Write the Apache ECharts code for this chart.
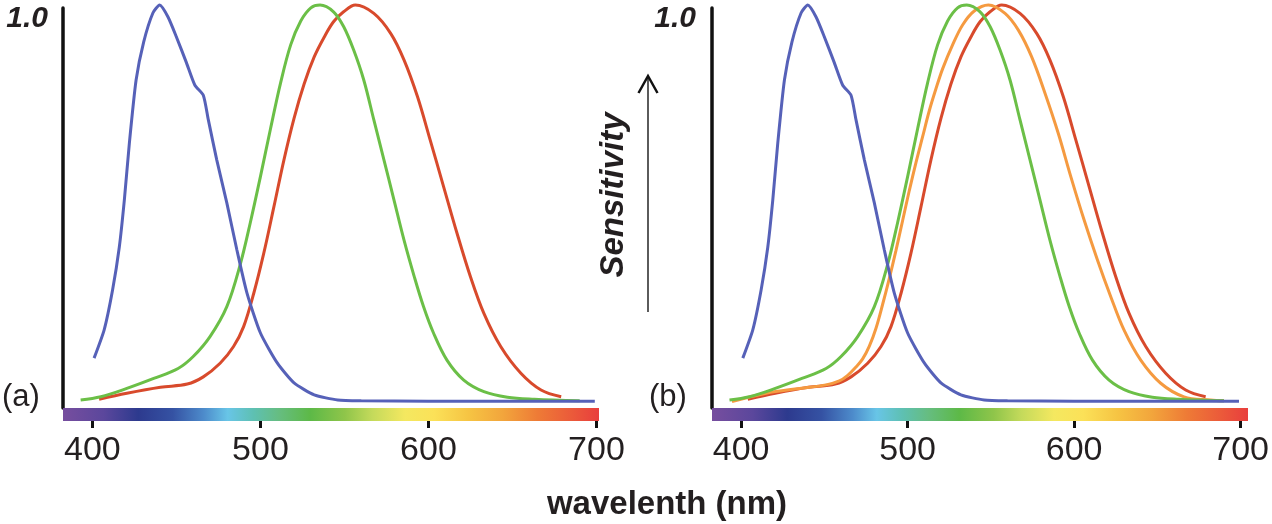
<!DOCTYPE html>
<html>
<head>
<meta charset="utf-8">
<script src="https://cdn.jsdelivr.net/npm/echarts@6/dist/echarts.min.js"></script>
<style>
html, body { margin: 0; padding: 0; background: #fff; }
#chart { width: 1272px; height: 524px; }
</style>
</head>
<body>
<div id="chart"></div>
<script>
// cone sensitivity curves (nm / relative sensitivity)
var blueNm  = [401, 407, 412, 416, 419, 422, 426, 430.5, 436, 440, 445, 450, 456, 461, 466, 469, 474, 480, 486, 492, 500, 510, 520, 532, 546, 560, 600, 650, 699];
var blueVal = [0.115, 0.186, 0.286, 0.393, 0.511, 0.654, 0.812, 0.907, 0.98, 1.0, 0.97, 0.92, 0.855, 0.799, 0.774, 0.712, 0.612, 0.504, 0.386, 0.278, 0.178, 0.103, 0.053, 0.023, 0.01, 0.008, 0.007, 0.007, 0.007];

var greenNm  = [393, 405, 420.5, 436.5, 451, 460, 470, 480, 488, 494, 500, 506, 512, 518, 524, 530, 535.5, 543.5, 549.5, 555.5, 561.5, 567.5, 573.5, 579.5, 585.5, 591.5, 597, 603, 611, 621, 633, 647, 663, 690];
var greenVal = [0.010, 0.018, 0.039, 0.064, 0.089, 0.119, 0.169, 0.244, 0.35, 0.455, 0.57, 0.69, 0.805, 0.9, 0.96, 0.993, 1.0, 0.983, 0.946, 0.887, 0.812, 0.712, 0.612, 0.511, 0.41, 0.32, 0.245, 0.178, 0.11, 0.06, 0.031, 0.017, 0.012, 0.008];

var redNm  = [404, 420.5, 440.5, 456.5, 466, 476, 484, 490, 496, 502, 508, 514, 520, 526, 532, 538, 543.5, 549.5, 556.5, 567.5, 577.5, 585.5, 593.5, 601, 609, 617, 625, 633, 643, 655, 667, 679];
var redVal = [0.012, 0.027, 0.042, 0.05, 0.068, 0.102, 0.144, 0.194, 0.277, 0.378, 0.494, 0.612, 0.716, 0.802, 0.87, 0.92, 0.958, 0.983, 1.0, 0.979, 0.929, 0.862, 0.77, 0.662, 0.545, 0.428, 0.319, 0.227, 0.144, 0.077, 0.035, 0.018];

// extra curve only in panel (b)
var orangeNm  = [394.5, 415, 435, 451, 459, 464, 469, 473, 477, 481, 485, 489, 493, 497, 501, 505, 509, 513, 517, 521, 527, 533, 540, 548.5, 558.5, 566.5, 574.5, 582.5, 590.5, 598, 606, 614, 622, 630, 640, 652, 666, 682, 690];
var orangeVal = [0.006, 0.027, 0.039, 0.048, 0.058, 0.072, 0.093, 0.113, 0.145, 0.19, 0.25, 0.315, 0.385, 0.46, 0.535, 0.605, 0.67, 0.735, 0.79, 0.84, 0.9, 0.95, 0.985, 1.0, 0.979, 0.937, 0.87, 0.779, 0.678, 0.57, 0.461, 0.361, 0.269, 0.185, 0.11, 0.052, 0.018, 0.01, 0.008];

var tickNm = [400, 500, 600, 700];

// spectrum strip under the axes (wavelength -> colour)
var spectrumNm  = [382.5, 410, 430, 450, 468, 482, 497, 512, 530, 550, 566, 585, 602, 622, 642, 662, 682, 701.5];
var spectrumCol = ['#7b4f9f', '#5b479c', '#2d3a8e', '#3552a3', '#4d8bcb', '#68c5e7', '#5ec0b2', '#66bd80', '#5db947', '#8fc54a', '#c4da5b', '#f4e860', '#fbe158', '#f6c443', '#f2a53c', '#ee7b36', '#eb5a3a', '#e8373e'];

var NM_MIN = 382.5, NM_MAX = 701.5;
var FONT = '"Liberation Sans", Arial, Helvetica, sans-serif';
var INK = '#231f20';

function zip(xs, ys) {
    var out = [];
    for (var i = 0; i < xs.length; i++) {
        out.push([xs[i], ys[i]]);
    }
    return out;
}

function spectrumGradient() {
    var stops = [];
    for (var i = 0; i < spectrumNm.length; i++) {
        stops.push({offset: (spectrumNm[i] - NM_MIN) / (NM_MAX - NM_MIN), color: spectrumCol[i]});
    }
    return new echarts.graphic.LinearGradient(0, 0, 1, 0, stops);
}

var panels = [{left: 63}, {left: 712}];
var grids = [], xAxes = [], yAxes = [], series = [];

panels.forEach(function (p) {
    // data grid
    grids.push({left: p.left, width: 536, top: 8, height: 400});
    // overlay grid for the spectrum strip
    grids.push({left: p.left, width: 536, top: 8, height: 400});
});

for (var g = 0; g < 4; g++) {
    var isData = g % 2 === 0;
    xAxes.push({
        type: 'value', gridIndex: g, min: NM_MIN, max: NM_MAX,
        position: 'bottom',
        offset: isData ? 13 : 6.5,
        splitLine: {show: false},
        axisLine: isData ? {show: false, onZero: false}
                         : {show: true, onZero: false, lineStyle: {color: spectrumGradient(), width: 13, cap: 'butt'}},
        axisTick: isData ? {show: true, customValues: tickNm, length: 7, lineStyle: {color: '#111', width: 3}}
                         : {show: false},
        axisLabel: isData ? {show: true, customValues: tickNm, margin: 13, fontSize: 34, fontFamily: FONT, color: INK}
                          : {show: false}
    });
    yAxes.push({
        type: 'value', gridIndex: g, min: -0.01, max: 0.9925,
        splitLine: {show: false}, axisTick: {show: false}, axisLabel: {show: false},
        axisLine: {show: isData, onZero: false, lineStyle: {color: '#111', width: 3.5}}
    });
}

function curve(name, nm, val, color, xi, smooth) {
    return {
        name: name, type: 'line', xAxisIndex: xi, yAxisIndex: xi,
        data: zip(nm, val), showSymbol: false, smooth: smooth, clip: false,
        lineStyle: {color: color, width: 3}, z: 3
    };
}

var RED = '#d84a2c', ORANGE = '#f59a40', GREEN = '#6bbf47', BLUE = '#5661b8';

series.push(curve('L', redNm, redVal, RED, 0, 0.35));
series.push(curve('M', greenNm, greenVal, GREEN, 0, 0.35));
series.push(curve('S', blueNm, blueVal, BLUE, 0, 0.2));

series.push(curve('L', redNm, redVal, RED, 2, 0.35));
series.push(curve('L\u2032', orangeNm, orangeVal, ORANGE, 2, 0.35));
series.push(curve('M', greenNm, greenVal, GREEN, 2, 0.35));
series.push(curve('S', blueNm, blueVal, BLUE, 2, 0.2));

function label(text, x, y, font, align) {
    return {
        type: 'text', x: x, y: y, z: 10,
        style: {text: text, font: font, fill: INK, align: align || 'left', verticalAlign: 'middle'}
    };
}

var graphic = [
    label('1.0', 48, 19, 'italic bold 30px ' + FONT, 'right'),
    label('1.0', 696, 19, 'italic bold 30px ' + FONT, 'right'),
    label('(a)', 2, 397, '31px ' + FONT),
    label('(b)', 649, 397, '31px ' + FONT),
    label('wavelenth (nm)', 667, 505, 'bold 33px ' + FONT, 'center'),
    {
        type: 'text', x: 614, y: 195, rotation: Math.PI / 2, z: 10,
        style: {text: 'Sensitivity', font: 'italic bold 33px ' + FONT, fill: INK, align: 'center', verticalAlign: 'middle'}
    },
    {
        type: 'line', z: 10,
        shape: {x1: 648, y1: 312, x2: 648, y2: 78},
        style: {stroke: '#333', lineWidth: 1.6}
    },
    {
        type: 'polyline', z: 10,
        shape: {points: [[638.5, 93], [648, 76], [657.5, 93]]},
        style: {stroke: '#111', lineWidth: 2.5, fill: null}
    }
];

var chart = echarts.init(document.getElementById('chart'), null, {renderer: 'canvas'});
chart.setOption({
    animation: false,
    backgroundColor: '#fff',
    grid: grids,
    xAxis: xAxes,
    yAxis: yAxes,
    series: series,
    graphic: graphic
});
</script>
</body>
</html>
